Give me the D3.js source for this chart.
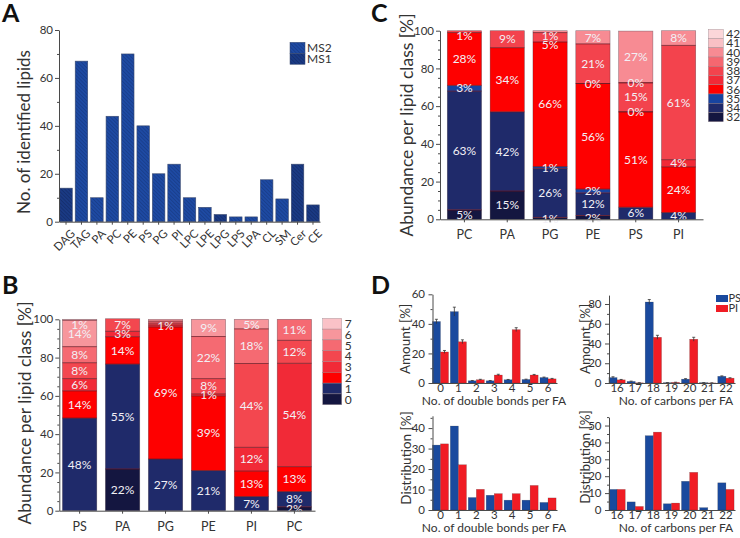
<!DOCTYPE html>
<html><head><meta charset="utf-8">
<script src="https://cdn.jsdelivr.net/npm/d3@7"></script>
<style>
body{margin:0;background:#fff;}
svg{font-family:Lato,"Open Sans",sans-serif;}
</style></head>
<body><svg id="c" width="740" height="538"></svg>
<script>
const FONT = 'Lato, "Open Sans", sans-serif';

// ---------- Panel A data ----------
const aCategories = ["DAG","TAG","PA","PC","PE","PS","PG","PI","LPC","LPE","LPG","LPS","LPA","CL","SM","Cer","CE"];
const aValues = [14,67,10,44,70,40,20,24,10,6,3,2,2,17.5,9.5,24,7];
const aSource = ["MS1","MS2","MS2","MS2","MS2","MS2","MS2","MS2","MS2","MS2","MS1","MS2","MS2","MS2","MS2","MS1","MS1"];
const aLegend = ["MS2","MS1"];
const aTicks = [0,20,40,60,80];

// ---------- Panel B data (double bonds per lipid class) ----------
const bCategories = ["PS","PA","PG","PE","PI","PC"];
const bSeries = ["0","1","2","3","4","5","6","7"];
const b0 = [null, 21.8, null, null, null, 2];
const b1 = [48.4, 54.8, 27, 21, 7.4, 8];
const b2 = [14.2, 14.3, 69, 39, 13.3, 13];
const b3 = [6.4, 2.8, 1, 1, 12.4, 54];
const b4 = [8.3, 6.6, 1, 8, 43.8, 12];
const b5 = [8.4, null, 1, 22, 18.1, 11];
const b6 = [13.8, null, 1, 9, 5, null];
const b7 = [0.5, null, null, null, null, null];
const bHiddenLabels = [["PG","4"],["PG","5"],["PG","6"]];
const bColors = ["#141640","#1f2a6a","#fe0000","#f12a37","#f3474f","#f56a72","#f7969c","#fac2c7"];

// ---------- Panel C data (carbon number per lipid class) ----------
const cCategories = ["PC","PA","PG","PE","PS","PI"];
const cSeries = ["32","34","35","36","37","38","39","40","41","42"];
const c32 = [5, 15, 1, 2, null, null];
const c34 = [63, 42, 26, 12, 6.4, 3.6];
const c35 = [3, null, 1, 2, null, null];
const c36 = [28, 34, 66, 56, 50.6, 24.2];
const c37 = [null, null, null, 0, 0, 3.8];
const c38 = [1, 9, 5, 21, 15.4, 60.6];
const c39 = [null, null, null, null, 0, null];
const c40 = [null, null, 1, 7, 27.4, 7.8];
const c41 = [null, null, null, null, null, null];
const c42 = [null, null, null, null, null, null];
const cColors = ["#141640","#1f2a6a","#1744a0","#fe0000","#f12a37","#f3434d","#f56770","#f78b93","#f9c0c5","#fbd6d9"];
const stackTicks = [0,20,40,60,80,100];

// ---------- Panel D data ----------
const dBondCats = ["0","1","2","3","4","5","6"];
const dCarbonCats = ["16","17","18","19","20","21","22"];
const dSeries = ["PS","PI"];
const dBondAmountPS = [41.6, 48.3, 1.5, 1.5, 2.2, 2.4, 3.7];
const dBondAmountPI = [21, 27.9, 2.2, 5.4, 36.1, 5.4, 2.8];
const dBondAmountPSErr = [1.5, 3, 0.2, 0.2, 0.2, 0.2, 0.3];
const dBondAmountPIErr = [1, 1.3, 0.3, 0.5, 1.3, 0.4, 0.3];
const dCarbonAmountPS = [5.5, 1.6, 82, 0.3, 3.9, 0.3, 6.8];
const dCarbonAmountPI = [3.2, 0.2, 46.3, 0.6, 44.3, 0.1, 4.9];
const dCarbonAmountPSErr = [0.8, 0.3, 2.5, 0.1, 0.5, 0.1, 0.4];
const dCarbonAmountPIErr = [0.4, 0.1, 2, 0.2, 2, 0.1, 0.4];
const dBondDistPS = [31.7, 41, 6.1, 7.2, 4.8, 4.8, 3.7];
const dBondDistPI = [32.3, 22.1, 10.1, 8, 8, 12, 5.9];
const dCarbonDistPS = [12.2, 4.8, 44, 3.7, 17, 1.4, 16.1];
const dCarbonDistPI = [12.2, 2.1, 46.1, 4.1, 22.3, 0, 12.2];
const dColors = ["#1a4a9e","#f01c24"];

const svg = d3.select("#c");
const defs = svg.append("defs");
function hatch(id, base, line){
  const p = defs.append("pattern").attr("id",id).attr("patternUnits","userSpaceOnUse")
    .attr("width",2.6).attr("height",2.6).attr("patternTransform","rotate(-45)");
  p.append("rect").attr("width",2.6).attr("height",2.6).attr("fill",base);
  p.append("line").attr("x1",0).attr("y1",0).attr("x2",0).attr("y2",2.6).attr("stroke",line).attr("stroke-width",1);
}
hatch("hMS2","#1e4aa3","#15357a");
hatch("hMS1","#1a3a84","#112660");

function yAxis(x0, y, majors, minors, fs, pad){
  const g = svg.append("g").attr("transform",`translate(${x0},0)`)
    .call(d3.axisLeft(y).tickValues(majors).tickSize(4).tickSizeOuter(0).tickPadding(pad==null?2:pad));
  g.attr("font-family",FONT).attr("font-size",fs);
  const m = svg.append("g").attr("transform",`translate(${x0},0)`)
    .call(d3.axisLeft(y).tickValues(minors).tickSize(2).tickSizeOuter(0).tickFormat(""));
  m.select(".domain").remove();
  [g,m].forEach(s=>s.selectAll("line,path").attr("stroke","#4a4a4a"));
  g.selectAll("text").attr("fill","#333");
  return g;
}
function vLabel(text, x, y, fs){
  svg.append("text").attr("transform",`translate(${x},${y}) rotate(-90)`)
    .attr("text-anchor","middle").attr("dominant-baseline","central")
    .attr("font-size",fs).attr("fill","#333").text(text);
}
function panelLabel(t,x,y){
  svg.append("text").attr("x",x).attr("y",y).attr("font-size",25).attr("font-weight","bold").attr("fill","#111").text(t);
}
const range = (a,b,s)=>d3.range(a,b+0.001,s);

// ================= Panel A =================
panelLabel("A",2,22);
const aX = d3.scaleBand().domain(aCategories).range([59,320]).paddingInner(0.19).paddingOuter(0.05);
const aY = d3.scaleLinear().domain([0,80]).range([221.7,30]);
svg.append("g").selectAll("rect").data(aCategories).join("rect")
  .attr("x",d=>aX(d)).attr("width",aX.bandwidth())
  .attr("y",(d,i)=>aY(aValues[i])).attr("height",(d,i)=>aY(0)-aY(aValues[i]))
  .attr("fill",(d,i)=>`url(#h${aSource[i]})`).attr("stroke","#3b4a6e").attr("stroke-width",0.6);
yAxis(59,aY,aTicks,range(10,70,20),11.5);
const aXA = svg.append("g").attr("transform",`translate(0,${aY(0)})`)
  .call(d3.axisBottom(aX).tickSize(3).tickSizeOuter(0).tickFormat(""));
aXA.selectAll("line,path").attr("stroke","#4a4a4a");
svg.append("g").selectAll("text").data(aCategories).join("text")
  .attr("transform",d=>`translate(${aX(d)+aX.bandwidth()/2+4},${aY(0)+7}) rotate(-45)`)
  .attr("text-anchor","end").attr("dy","0.7em").attr("font-size",11.5).attr("fill","#333").text(d=>d);
vLabel("No. of identified lipids",23,132,17);
aLegend.forEach((s,i)=>{
  svg.append("rect").attr("x",290).attr("y",42.3+i*11).attr("width",15).attr("height",11)
    .attr("fill",`url(#h${s})`).attr("stroke","#3b4a6e").attr("stroke-width",0.5);
  svg.append("text").attr("x",307).attr("y",47.8+i*11).attr("dy","0.35em").attr("font-size",12).attr("fill","#333").text(s);
});

// ================= stacked helper =================
function stacked(cats, series, vals, colors, x, y, hidden){
  const g = svg.append("g");
  cats.forEach((c,i)=>{
    let cum = 0; const segs = [];
    series.forEach((s,k)=>{
      const v = vals[k][i];
      if (v==null) return;
      segs.push({s, k, y0:cum, y1:cum+v, v}); cum += v;
    });
    const bx = x(c), bw = x.bandwidth();
    segs.forEach(sg=>{
      if (sg.v>0) g.append("rect").attr("x",bx).attr("width",bw)
        .attr("y",y(sg.y1)).attr("height",y(sg.y0)-y(sg.y1)).attr("fill",colors[sg.k]);
    });
    segs.forEach((sg,j)=>{
      if (j===segs.length-1) return;
      g.append("line").attr("x1",bx).attr("x2",bx+bw).attr("y1",y(sg.y1)).attr("y2",y(sg.y1))
        .attr("stroke","#6b1520").attr("stroke-opacity",0.75).attr("stroke-width",1);
    });
    g.append("rect").attr("x",bx).attr("width",bw).attr("y",y(cum)).attr("height",y(0)-y(cum))
      .attr("fill","none").attr("stroke","#3a2a35").attr("stroke-opacity",0.5).attr("stroke-width",0.6);
    const labs = segs.filter(sg=>!hidden.some(h=>h[0]===c && h[1]===sg.s))
      .map(sg=>({t:Math.round(sg.v)+"%", y:y((sg.y0+sg.y1)/2)}))
      .sort((a,b)=>a.y-b.y);
    let lim = y(100)+5.5;
    labs.forEach(l=>{ if (l.y<lim) l.y=lim; lim=l.y+8.5; });
    labs.forEach(l=>g.append("text").attr("x",bx+bw/2).attr("y",l.y).attr("dy","0.35em")
      .attr("text-anchor","middle").attr("font-size",12).attr("fill","#f2f0f6").text(l.t));
  });
}
function stackAxes(x, y, x0){
  yAxis(x0,y,stackTicks,range(5,95,5).filter(v=>v%20!==0),11.5);
  const xa = svg.append("g").attr("transform",`translate(0,${y(0)})`)
    .call(d3.axisBottom(x).tickSize(3).tickSizeOuter(0).tickPadding(8));
  xa.attr("font-family",FONT).attr("font-size",12.5);
  xa.selectAll("line,path").attr("stroke","#4a4a4a");
  xa.selectAll("text").attr("fill","#333");
}
function stackLegend(series, colors, x, yTop, h, w){
  const n = series.length;
  series.slice().reverse().forEach((s,i)=>{
    const k = n-1-i;
    svg.append("rect").attr("x",x).attr("y",yTop+i*h).attr("width",w).attr("height",h)
      .attr("fill",colors[k]).attr("stroke","#9a8a90").attr("stroke-width",0.4);
    svg.append("text").attr("x",x+w+3).attr("y",yTop+i*h+h/2).attr("dy","0.35em")
      .attr("font-size",12).attr("fill","#333").text(s);
  });
}

// ================= Panel B =================
panelLabel("B",2,294);
const bX = d3.scaleBand().domain(bCategories).range([59,315]).paddingInner(0.2).paddingOuter(0.08);
const bY = d3.scaleLinear().domain([0,100]).range([510.7,319.3]);
stacked(bCategories,bSeries,[b0,b1,b2,b3,b4,b5,b6,b7],bColors,bX,bY,bHiddenLabels);
stackAxes(bX,bY,59.3);
vLabel("Abundance per lipid class [%]",24,413,17.5);
stackLegend(bSeries,bColors,322.7,318.3,10.8,19);

// ================= Panel C =================
panelLabel("C",371,22);
const cX = d3.scaleBand().domain(cCategories).range([440,703]).paddingInner(0.2).paddingOuter(0.17);
const cY = d3.scaleLinear().domain([0,100]).range([219.3,30.7]);
stacked(cCategories,cSeries,[c32,c34,c35,c36,c37,c38,c39,c40,c41,c42],cColors,cX,cY,[]);
stackAxes(cX,cY,440);
vLabel("Abundance per lipid class [%]",406,125,17.5);
stackLegend(cSeries,cColors,708.3,29.3,9.24,15);

// ================= Panel D =================
panelLabel("D",371,294);
function dChart(o){
  const x = d3.scaleBand().domain(o.cats).range(o.xr).paddingInner(0.1).paddingOuter(0.05);
  const y = d3.scaleLinear().domain(o.yd).range(o.yr);
  const bw = x.bandwidth()/2;
  const sets = [[o.ps,o.psE],[o.pi,o.piE]];
  sets.forEach((s,k)=>{
    svg.append("g").selectAll("rect").data(o.cats).join("rect")
      .attr("x",d=>x(d)+k*bw).attr("width",bw)
      .attr("y",(d,i)=>y(s[0][i])).attr("height",(d,i)=>y(0)-y(s[0][i]))
      .attr("fill",dColors[k]).attr("stroke","#222").attr("stroke-opacity",0.35).attr("stroke-width",0.5);
    if (s[1]) {
      const eg = svg.append("g").attr("stroke","#333").attr("stroke-width",0.8);
      o.cats.forEach((d,i)=>{
        const cx = x(d)+k*bw+bw/2, v = s[0][i], e = s[1][i];
        eg.append("line").attr("x1",cx).attr("x2",cx).attr("y1",y(v-e)).attr("y2",y(v+e));
        eg.append("line").attr("x1",cx-1.5).attr("x2",cx+1.5).attr("y1",y(v+e)).attr("y2",y(v+e));
      });
    }
  });
  yAxis(o.xr[0]+1,y,o.maj,o.min,11.5,3.5);
  const xa = svg.append("g").attr("transform",`translate(0,${y(0)})`)
    .call(d3.axisBottom(x).tickSize(0).tickSizeOuter(0).tickPadding(1));
  xa.attr("font-family",FONT).attr("font-size",11.5);
  xa.selectAll("path").attr("stroke","#4a4a4a");
  xa.selectAll("text").attr("fill","#333");
  svg.append("text").attr("x",o.tx).attr("y",o.ty).attr("text-anchor","middle")
    .attr("font-size",12).attr("fill","#333").text(o.title);
  vLabel(o.yl,o.ylx,o.yly,13.5);
}
dChart({cats:dBondCats,xr:[431.5,557],yd:[0,60],yr:[383,294.3],ps:dBondAmountPS,pi:dBondAmountPI,
  psE:dBondAmountPSErr,piE:dBondAmountPIErr,maj:range(0,60,20),min:range(10,50,20),
  title:"No. of double bonds per FA",tx:494,ty:404.5,yl:"Amount [%]",ylx:405,yly:339});
dChart({cats:dCarbonCats,xr:[608,735],yd:[0,89],yr:[383,295.1],ps:dCarbonAmountPS,pi:dCarbonAmountPI,
  psE:dCarbonAmountPSErr,piE:dCarbonAmountPIErr,maj:range(0,80,20),min:range(10,70,20),
  title:"No. of carbons per FA",tx:676,ty:404.5,yl:"Amount [%]",ylx:585,yly:339});
dChart({cats:dBondCats,xr:[431.5,557],yd:[0,46],yr:[510,415.8],ps:dBondDistPS,pi:dBondDistPI,
  maj:range(0,40,10),min:range(5,45,10),
  title:"No. of double bonds per FA",tx:494,ty:532,yl:"Distribution [%]",ylx:406,yly:458});
dChart({cats:dCarbonCats,xr:[608,735],yd:[0,55],yr:[510,417.1],ps:dCarbonDistPS,pi:dCarbonDistPI,
  maj:range(0,50,10),min:range(5,55,10),
  title:"No. of carbons per FA",tx:676,ty:532,yl:"Distribution [%]",ylx:585,yly:457});
// D legend
dSeries.forEach((s,i)=>{
  svg.append("rect").attr("x",716).attr("y",295+i*10).attr("width",12).attr("height",7).attr("fill",dColors[i]);
  svg.append("text").attr("x",728.5).attr("y",298.5+i*10).attr("dy","0.35em").attr("font-size",11).attr("fill","#333").text(s);
});
</script></body></html>
